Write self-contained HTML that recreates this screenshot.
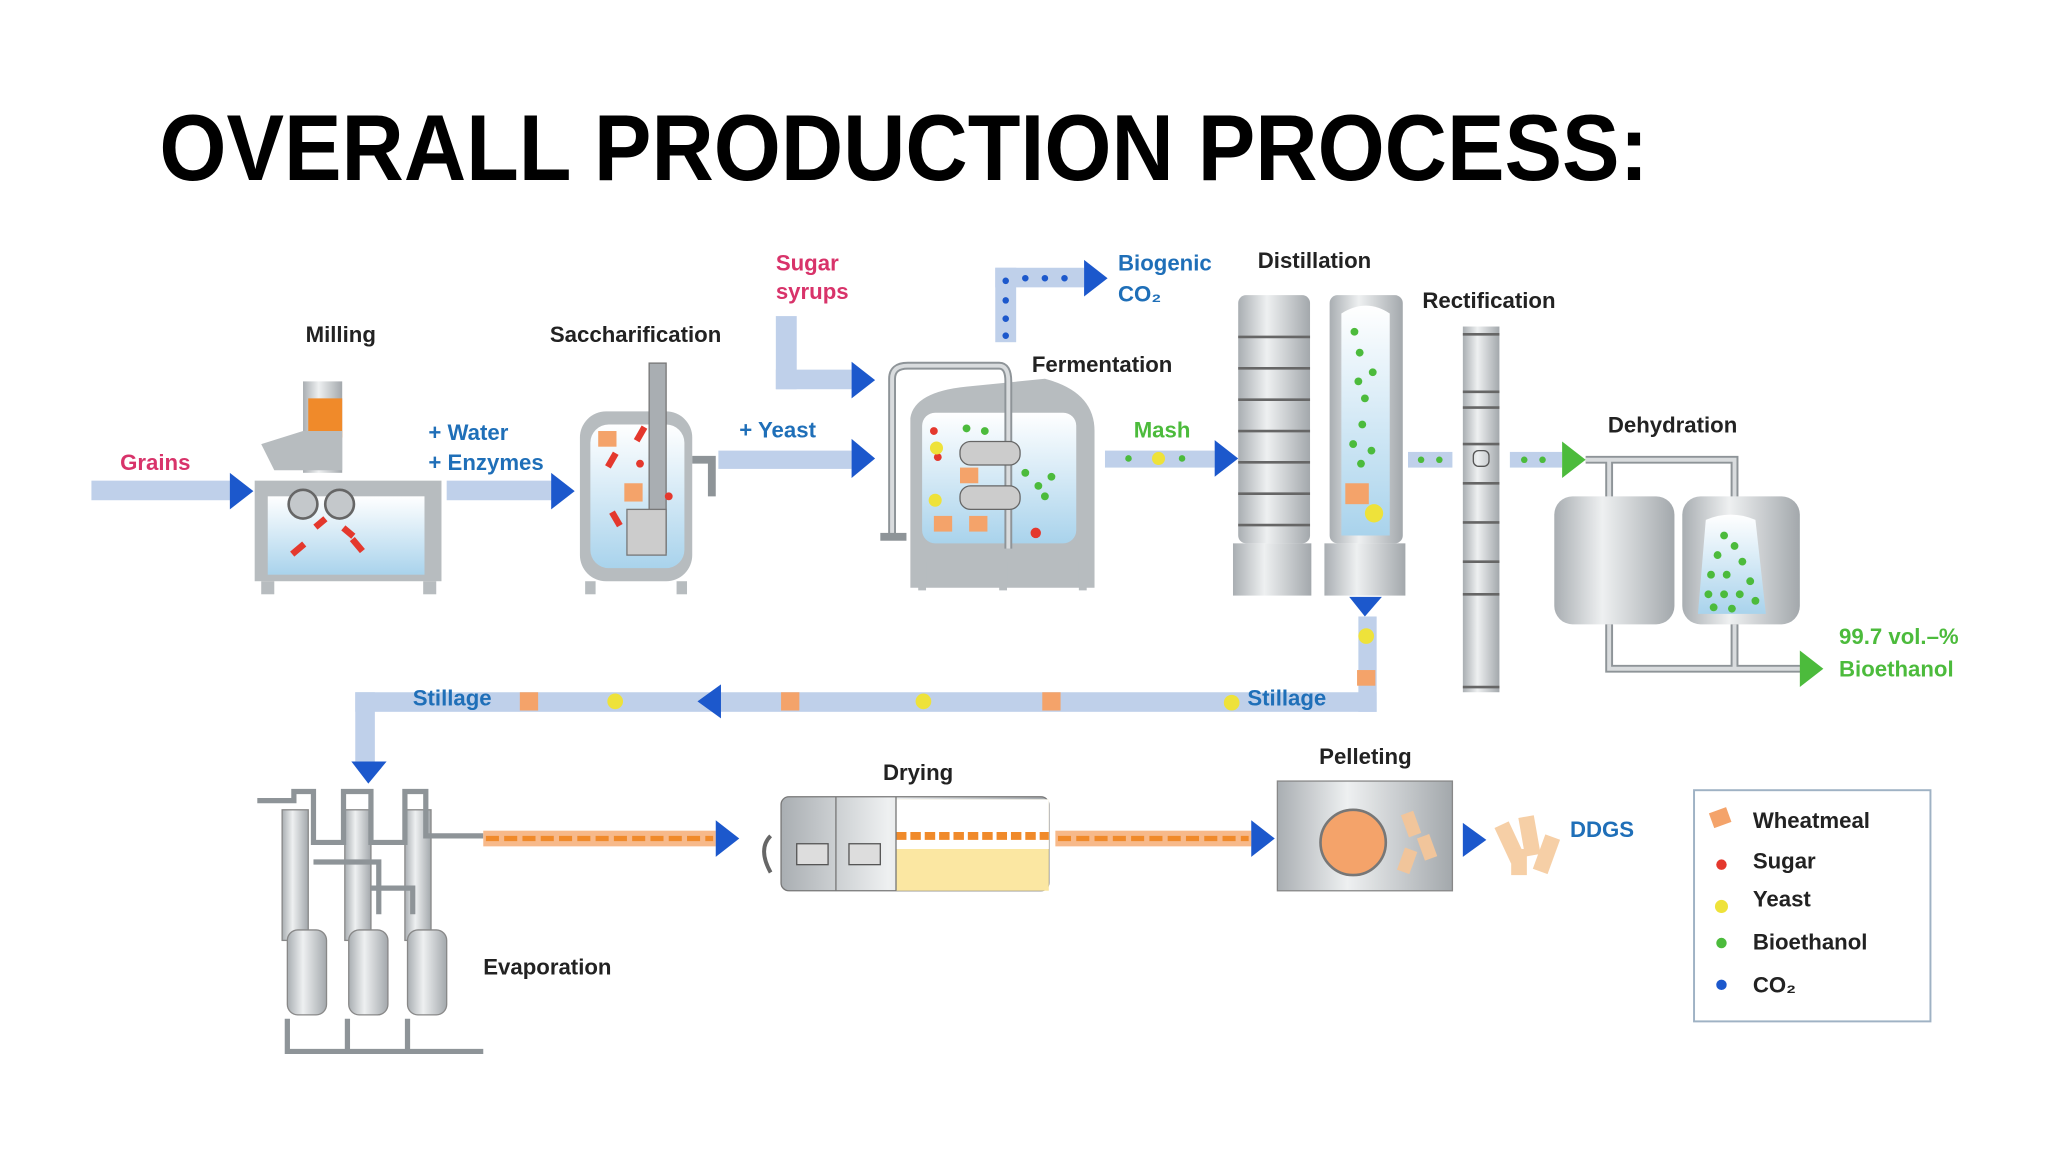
<!DOCTYPE html>
<html><head><meta charset="utf-8"><style>
html,body{margin:0;padding:0;background:#fff;width:2048px;height:1152px;overflow:hidden}
svg{display:block}
text{font-family:"Liberation Sans",sans-serif}
.lb{font-size:17px;font-weight:bold;fill:#222}
.bl{font-size:17px;font-weight:bold;fill:#1f6fb8}
.pk{font-size:17px;font-weight:bold;fill:#d8336a}
.gr{font-size:17px;font-weight:bold;fill:#4cbb3c}
.bar{fill:#bfd0ea}
.ah{fill:#1c58cc}
.pipe{fill:none;stroke:#8e9498;stroke-width:6}
.pipei{fill:none;stroke:#d9dcde;stroke-width:3}
</style></head><body>
<svg width="2048" height="1152" viewBox="0 0 1568 882" preserveAspectRatio="none" xmlns="http://www.w3.org/2000/svg">
<defs>
<linearGradient id="cyl" x1="0" x2="1" y1="0" y2="0"><stop offset="0" stop-color="#a9aeb2"/><stop offset="0.4" stop-color="#eef0f1"/><stop offset="1" stop-color="#a3a8ac"/></linearGradient>
<linearGradient id="liq" x1="0" x2="0" y1="0" y2="1"><stop offset="0" stop-color="#ffffff"/><stop offset="1" stop-color="#a9d3ec"/></linearGradient>
</defs>
<text x="122" y="138" font-size="72" font-weight="bold" fill="#000" textLength="1140" lengthAdjust="spacingAndGlyphs">OVERALL PRODUCTION  PROCESS:</text>

<text x="92" y="360" class="pk">Grains</text>
<rect x="70" y="368" width="108" height="15" class="bar"/>
<polygon points="176,362 194,376 176,390" class="ah"/>
<text x="234" y="262" class="lb">Milling</text>
<rect x="232" y="292" width="30" height="70" fill="url(#cyl)"/>
<rect x="236" y="305" width="26" height="30" fill="#f08a2a"/>
<polygon points="200,340 232,330 262,330 262,360 210,360" fill="#b7bcbf"/>
<rect x="195" y="368" width="143" height="77" fill="#b7bcbf"/>
<rect x="205" y="380" width="120" height="60" fill="url(#liq)"/>
<circle cx="232" cy="386" r="11" fill="#c4c8cb" stroke="#666" stroke-width="2"/>
<circle cx="260" cy="386" r="11" fill="#c4c8cb" stroke="#666" stroke-width="2"/>
<g fill="#e4382d"><rect x="240" y="398" width="10" height="5" transform="rotate(-40 245 400)"/><rect x="262" y="405" width="10" height="5" transform="rotate(40 267 407)"/><rect x="222" y="418" width="12" height="5" transform="rotate(-40 228 420)"/><rect x="268" y="415" width="12" height="5" transform="rotate(50 274 417)"/></g>
<rect x="200" y="445" width="10" height="10" fill="#b7bcbf"/><rect x="324" y="445" width="10" height="10" fill="#b7bcbf"/>
<text x="328" y="337" class="bl">+ Water</text>
<text x="328" y="360" class="bl">+ Enzymes</text>
<rect x="342" y="368" width="82" height="15" class="bar"/>
<polygon points="422,362 440,376 422,390" class="ah"/>
<text x="421" y="262" class="lb">Saccharification</text>
<rect x="444" y="315" width="86" height="130" rx="20" fill="#b7bcbf"/>
<rect x="452" y="325" width="72" height="110" rx="14" fill="url(#liq)"/>
<rect x="497" y="278" width="13" height="145" fill="#a9aeb2" stroke="#777"/>
<rect x="480" y="390" width="30" height="35" fill="#ccc" stroke="#777"/>
<path d="M530 352 H545 V380" class="pipe"/>
<g fill="#e4382d"><rect x="462" y="350" width="12" height="5" transform="rotate(-60 468 352)"/><rect x="484" y="330" width="12" height="5" transform="rotate(-60 490 332)"/><rect x="466" y="395" width="12" height="5" transform="rotate(60 472 397)"/><circle cx="512" cy="380" r="3"/><circle cx="490" cy="355" r="3"/></g>
<g fill="#f4a36a"><rect x="458" y="330" width="14" height="12"/><rect x="478" y="370" width="14" height="14"/></g>
<rect x="448" y="445" width="8" height="10" fill="#b7bcbf"/><rect x="518" y="445" width="8" height="10" fill="#b7bcbf"/>
<text x="566" y="335" class="bl">+ Yeast</text>
<rect x="550" y="345" width="102" height="14" class="bar"/>
<polygon points="652,336 670,351 652,366" class="ah"/>
<text x="594" y="207" class="pk">Sugar</text>
<text x="594" y="229" class="pk">syrups</text>
<rect x="594" y="242" width="16" height="56" class="bar"/>
<rect x="594" y="283" width="58" height="15" class="bar"/>
<polygon points="652,277 670,291 652,305" class="ah"/>
<text x="790" y="285" class="lb">Fermentation</text>
<path d="M697 450 V320 Q700 300 740 296 L800 290 Q838 300 838 330 V450 Z" fill="#b7bcbf"/>
<rect x="706" y="316" width="118" height="100" rx="10" fill="url(#liq)"/>
<path d="M683 410 V290 Q683 280 695 280 H765 Q772 280 772 292 V420" class="pipe"/>
<path d="M683 410 V290 Q683 280 695 280 H765 Q772 280 772 292 V420" class="pipei"/>
<rect x="674" y="408" width="20" height="6" fill="#8e9498"/>
<rect x="735" y="338" width="46" height="18" rx="8" fill="#ccc" stroke="#666"/>
<rect x="735" y="372" width="46" height="18" rx="8" fill="#ccc" stroke="#666"/>
<g fill="#4cbb3c"><circle cx="740" cy="328" r="3"/><circle cx="754" cy="330" r="3"/><circle cx="785" cy="362" r="3"/><circle cx="795" cy="372" r="3"/><circle cx="805" cy="365" r="3"/><circle cx="800" cy="380" r="3"/></g>
<g fill="#e4382d"><circle cx="715" cy="330" r="3"/><circle cx="718" cy="350" r="3"/><circle cx="793" cy="408" r="4"/></g>
<g fill="#eee23a"><circle cx="717" cy="343" r="5"/><circle cx="716" cy="383" r="5"/></g>
<g fill="#f4a36a"><rect x="735" y="358" width="14" height="12"/><rect x="742" y="395" width="14" height="12"/><rect x="715" y="395" width="14" height="12"/></g>
<rect x="703" y="430" width="6" height="22" fill="#b7bcbf"/><rect x="765" y="430" width="6" height="22" fill="#b7bcbf"/><rect x="826" y="430" width="6" height="22" fill="#b7bcbf"/>
<rect x="762" y="205" width="16" height="57" class="bar"/>
<rect x="762" y="205" width="68" height="15" class="bar"/>
<polygon points="830,199 848,213 830,227" class="ah"/>
<g fill="#1c58cc"><circle cx="770" cy="215" r="2.5"/><circle cx="770" cy="230" r="2.5"/><circle cx="770" cy="244" r="2.5"/><circle cx="770" cy="257" r="2.5"/><circle cx="785" cy="213" r="2.5"/><circle cx="800" cy="213" r="2.5"/><circle cx="815" cy="213" r="2.5"/></g>
<text x="856" y="207" class="bl">Biogenic</text>
<text x="856" y="231" class="bl">CO₂</text>
<text x="868" y="335" class="gr">Mash</text>
<rect x="846" y="345" width="84" height="13" class="bar"/>
<g fill="#4cbb3c"><circle cx="864" cy="351" r="2.5"/><circle cx="905" cy="351" r="2.5"/></g><circle cx="887" cy="351" r="5" fill="#eee23a"/>
<polygon points="930,337 948,351 930,365" class="ah"/>
<text x="963" y="205" class="lb">Distillation</text>
<rect x="948" y="226" width="55" height="190" rx="6" fill="url(#cyl)"/>
<rect x="944" y="416" width="60" height="40" fill="url(#cyl)"/>
<g stroke="#666" stroke-width="2"><line x1="948" y1="258" x2="1003" y2="258"/><line x1="948" y1="282" x2="1003" y2="282"/><line x1="948" y1="306" x2="1003" y2="306"/><line x1="948" y1="330" x2="1003" y2="330"/><line x1="948" y1="354" x2="1003" y2="354"/><line x1="948" y1="378" x2="1003" y2="378"/><line x1="948" y1="402" x2="1003" y2="402"/></g>
<rect x="1018" y="226" width="56" height="190" rx="6" fill="url(#cyl)"/>
<rect x="1014" y="416" width="62" height="40" fill="url(#cyl)"/>
<path d="M1027 240 Q1046 228 1064 240 V410 H1027 Z" fill="url(#liq)"/>
<g fill="#4cbb3c"><circle cx="1037" cy="254" r="3"/><circle cx="1041" cy="270" r="3"/><circle cx="1051" cy="285" r="3"/><circle cx="1040" cy="292" r="3"/><circle cx="1045" cy="305" r="3"/><circle cx="1043" cy="325" r="3"/><circle cx="1036" cy="340" r="3"/><circle cx="1050" cy="345" r="3"/><circle cx="1042" cy="355" r="3"/></g>
<rect x="1030" y="370" width="18" height="16" fill="#f4a36a"/><circle cx="1052" cy="393" r="7" fill="#eee23a"/>
<text x="1089" y="236" class="lb">Rectification</text>
<rect x="1120" y="250" width="28" height="280" fill="url(#cyl)"/>
<g stroke="#666" stroke-width="2"><line x1="1120" y1="256" x2="1148" y2="256"/><line x1="1120" y1="300" x2="1148" y2="300"/><line x1="1120" y1="312" x2="1148" y2="312"/><line x1="1120" y1="340" x2="1148" y2="340"/><line x1="1120" y1="370" x2="1148" y2="370"/><line x1="1120" y1="400" x2="1148" y2="400"/><line x1="1120" y1="430" x2="1148" y2="430"/><line x1="1120" y1="455" x2="1148" y2="455"/><line x1="1120" y1="526" x2="1148" y2="526"/></g>
<rect x="1128" y="345" width="12" height="12" rx="4" fill="none" stroke="#555"/>
<rect x="1078" y="346" width="34" height="12" class="bar"/>
<rect x="1156" y="346" width="40" height="12" class="bar"/>
<g fill="#4cbb3c"><circle cx="1088" cy="352" r="2.5"/><circle cx="1102" cy="352" r="2.5"/><circle cx="1167" cy="352" r="2.5"/><circle cx="1181" cy="352" r="2.5"/></g>
<polygon points="1196,338 1214,352 1196,366" fill="#4cbb3c"/>
<text x="1231" y="331" class="lb">Dehydration</text>
<path d="M1214 352 H1328 V385 M1232 352 V385" class="pipe"/>
<path d="M1214 352 H1328 V385 M1232 352 V385" class="pipei"/>
<rect x="1190" y="380" width="92" height="98" rx="14" fill="url(#cyl)"/>
<rect x="1288" y="380" width="90" height="98" rx="14" fill="url(#cyl)"/>
<path d="M1300 470 L1306 398 Q1325 390 1344 398 L1352 470 Z" fill="url(#liq)"/>
<g fill="#4cbb3c"><circle cx="1320" cy="410" r="3"/><circle cx="1328" cy="418" r="3"/><circle cx="1315" cy="425" r="3"/><circle cx="1334" cy="430" r="3"/><circle cx="1310" cy="440" r="3"/><circle cx="1322" cy="440" r="3"/><circle cx="1340" cy="445" r="3"/><circle cx="1308" cy="455" r="3"/><circle cx="1320" cy="455" r="3"/><circle cx="1332" cy="455" r="3"/><circle cx="1344" cy="460" r="3"/><circle cx="1312" cy="465" r="3"/><circle cx="1326" cy="466" r="3"/></g>
<path d="M1232 478 V512 H1380 M1328 478 V512" class="pipe"/>
<path d="M1232 478 V512 H1380 M1328 478 V512" class="pipei"/>
<polygon points="1378,498 1396,512 1378,526" fill="#4cbb3c"/>
<text x="1408" y="493" class="gr" font-size="16">99.7 vol.–%</text>
<text x="1408" y="518" class="gr" font-size="16">Bioethanol</text>
<polygon points="1033,457 1058,457 1045,472" class="ah"/>
<rect x="1040" y="472" width="14" height="73" class="bar"/>
<rect x="272" y="530" width="782" height="15" class="bar"/>
<rect x="272" y="530" width="15" height="55" class="bar"/>
<polygon points="552,524 534,537 552,550" class="ah"/>
<polygon points="269,583 296,583 282,600" class="ah"/>
<circle cx="1046" cy="487" r="6" fill="#eee23a"/>
<g fill="#f4a36a"><rect x="1039" y="513" width="14" height="12"/><rect x="398" y="530" width="14" height="14"/><rect x="598" y="530" width="14" height="14"/><rect x="798" y="530" width="14" height="14"/></g>
<g fill="#eee23a"><circle cx="471" cy="537" r="6"/><circle cx="707" cy="537" r="6"/><circle cx="943" cy="538" r="6"/></g>
<text x="316" y="540" class="bl" font-size="14">Stillage</text>
<text x="955" y="540" class="bl" font-size="14">Stillage</text>
<g fill="url(#cyl)" stroke="#888"><rect x="216" y="620" width="20" height="100"/><rect x="264" y="620" width="20" height="100"/><rect x="310" y="620" width="20" height="100"/>
<rect x="220" y="712" width="30" height="65" rx="8"/><rect x="267" y="712" width="30" height="65" rx="8"/><rect x="312" y="712" width="30" height="65" rx="8"/></g>
<path d="M197 613 H225 V606 H240 V645 H263 V606 H284 V645 H310 V606 H326 V640 H370 M240 660 H290 V700 M284 680 H316 V700 M220 780 V805 M266 780 V805 M312 780 V805 M218 805 H370" fill="none" stroke="#8e9498" stroke-width="4"/>
<text x="370" y="746" class="lb">Evaporation</text>
<rect x="370" y="636" width="178" height="12" fill="#f7b98a"/>
<line x1="372" y1="642" x2="546" y2="642" stroke="#f08a2a" stroke-width="4" stroke-dasharray="10 4"/>
<polygon points="548,628 566,642 548,656" class="ah"/>
<text x="676" y="597" class="lb">Drying</text>
<rect x="598" y="610" width="205" height="72" rx="6" fill="url(#cyl)" stroke="#777"/>
<path d="M686 612 H803 V682 H686 Z" fill="#fbe7a2"/>
<path d="M686 612 H803 V650 H686 Z" fill="#fff"/>
<line x1="686" y1="640" x2="803" y2="640" stroke="#f08a2a" stroke-width="6" stroke-dasharray="8 3"/>
<line x1="640" y1="610" x2="640" y2="682" stroke="#777"/><line x1="686" y1="610" x2="686" y2="682" stroke="#777"/>
<rect x="610" y="646" width="24" height="16" fill="#ddd" stroke="#555"/><rect x="650" y="646" width="24" height="16" fill="#ddd" stroke="#555"/>
<path d="M590 640 Q580 650 590 668" fill="none" stroke="#666" stroke-width="3"/>
<rect x="808" y="636" width="150" height="12" fill="#f7b98a"/>
<line x1="810" y1="642" x2="956" y2="642" stroke="#f08a2a" stroke-width="4" stroke-dasharray="10 4"/>
<polygon points="958,628 976,642 958,656" class="ah"/>
<text x="1010" y="585" class="lb">Pelleting</text>
<rect x="978" y="598" width="134" height="84" fill="url(#cyl)" stroke="#888"/>
<circle cx="1036" cy="645" r="25" fill="#f4a36a" stroke="#777" stroke-width="2"/>
<g fill="#f1c59b"><rect x="1075" y="622" width="10" height="18" transform="rotate(-20 1080 630)"/><rect x="1088" y="640" width="10" height="18" transform="rotate(-20 1092 650)"/><rect x="1072" y="650" width="10" height="18" transform="rotate(20 1077 660)"/></g>
<polygon points="1120,630 1138,643 1120,656" class="ah"/>
<g fill="#f6cfa6"><rect x="1150" y="630" width="12" height="30" transform="rotate(-25 1156 645)"/><rect x="1165" y="625" width="12" height="30" transform="rotate(-10 1171 640)"/><rect x="1178" y="640" width="12" height="28" transform="rotate(20 1184 654)"/><rect x="1157" y="650" width="12" height="20"/></g>
<text x="1202" y="641" class="bl" font-size="17">DDGS</text>
<rect x="1297" y="605" width="181" height="177" fill="#fff" stroke="#9fb2c4" stroke-width="1.5"/>
<rect x="1310" y="620" width="14" height="12" fill="#f4a36a" transform="rotate(-20 1317 626)"/>
<circle cx="1318" cy="662" r="4" fill="#e4382d"/>
<circle cx="1318" cy="694" r="5" fill="#eee23a"/>
<circle cx="1318" cy="722" r="4" fill="#4cbb3c"/>
<circle cx="1318" cy="754" r="4" fill="#1c58cc"/>
<text x="1342" y="634" class="lb">Wheatmeal</text>
<text x="1342" y="665" class="lb">Sugar</text>
<text x="1342" y="694" class="lb">Yeast</text>
<text x="1342" y="727" class="lb">Bioethanol</text>
<text x="1342" y="760" class="lb">CO₂</text>
</svg>
</body></html>
